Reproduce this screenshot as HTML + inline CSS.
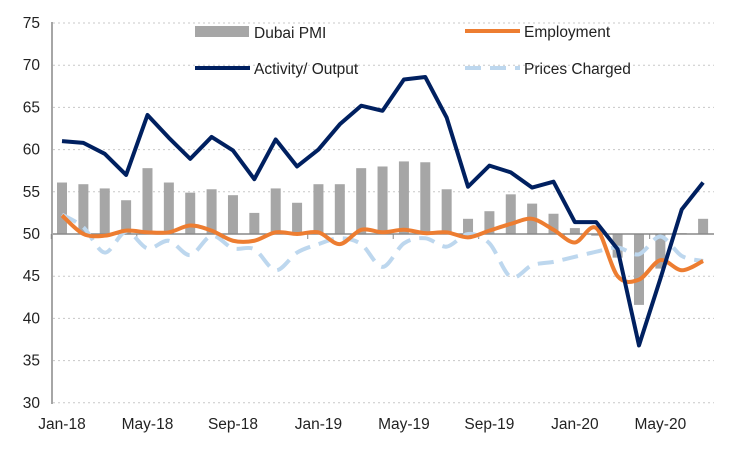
<!DOCTYPE html>
<html><head><meta charset="utf-8"><style>
body{margin:0;background:#fff}
svg text{font-family:"Liberation Sans",Arial,sans-serif;font-size:15.5px;fill:#222}
</style></head><body>
<svg id="c" width="750" height="450" xmlns="http://www.w3.org/2000/svg"></svg>
<script>
const s=document.getElementById('c');
const X=i=>62+i*21.37, Y=v=>234-(v-50)*8.44;
let h='';
for(let v=30;v<=75;v+=5){ if(v!==50) h+=`<line x1="53" x2="714" y1="${Y(v)}" y2="${Y(v)}" stroke="#c8c8c8" stroke-dasharray="2,3" stroke-width="1"/>`;
 h+=`<text x="40" y="${Y(v)+5}" text-anchor="end">${v}</text>`;}
const pmi=[56.1,55.9,55.4,54,57.8,56.1,54.9,55.3,54.6,52.5,55.4,53.7,55.9,55.9,57.8,58,58.6,58.5,55.3,51.8,52.7,54.7,53.6,52.4,50.7,49.8,47.2,41.6,45.9,50.1,51.8];
pmi.forEach((v,i)=>{const a=Y(Math.max(v,50)),b=Y(Math.min(v,50));h+=`<rect x="${X(i)-5}" y="${a}" width="10" height="${b-a}" fill="#a6a6a6"/>`;});
h+=`<line x1="53" x2="714" y1="234" y2="234" stroke="#888" stroke-width="1.5"/>`;
h+=`<line x1="52" x2="52" y1="22" y2="404" stroke="#888" stroke-width="1.5"/>`;
for(let i=0;i<31;i+=4){h+=`<line x1="${X(i)-10.7}" x2="${X(i)-10.7}" y1="234" y2="239" stroke="#888"/>`;}
function smooth(d){const p=d.map((v,i)=>[X(i),Y(v)]);let o=`M${p[0]}`;for(let i=0;i<p.length-1;i++){const p0=p[i-1]||p[i],p1=p[i],p2=p[i+1],p3=p[i+2]||p2;const t=0.16;o+=`C${p1[0]+(p2[0]-p0[0])*t},${p1[1]+(p2[1]-p0[1])*t} ${p2[0]-(p3[0]-p1[0])*t},${p2[1]-(p3[1]-p1[1])*t} ${p2[0]},${p2[1]}`;}return o;}
const pr=[52.3,50.8,47.8,50.3,48.3,49.2,47.5,49.8,48.3,48.2,45.7,47.8,48.8,49.5,48.8,46.1,48.9,49.5,48.5,50.0,48.9,44.9,46.3,46.7,47.3,47.9,48.4,47.6,49.7,47.4,46.8];
h+=`<path d="${smooth(pr)}" fill="none" stroke="#bdd7ee" stroke-width="4" stroke-dasharray="16,9"/>`;
const em=[52.2,50.0,49.8,50.4,50.2,50.2,51.0,50.4,49.2,49.2,50.2,50.0,50.2,48.8,50.5,50.2,50.5,50.1,50.2,49.6,50.4,51.2,51.8,50.5,49.0,50.7,45.0,44.6,46.9,45.7,46.8];
h+=`<path d="${smooth(em)}" fill="none" stroke="#ed7d31" stroke-width="4"/>`;
const ac=[61.0,60.8,59.5,57,64.1,61.4,58.9,61.5,59.9,56.5,61.2,58,60,63,65.2,64.6,68.3,68.6,63.8,55.6,58.1,57.3,55.5,56.2,51.4,51.4,48.2,36.8,44.7,52.9,56.1];
h+=`<polyline points="${ac.map((v,i)=>X(i)+','+Y(v)).join(' ')}" fill="none" stroke="#002060" stroke-width="4" stroke-linejoin="round"/>`;
const lab=['Jan-18','May-18','Sep-18','Jan-19','May-19','Sep-19','Jan-20','May-20'];
lab.forEach((t,k)=>{h+=`<text x="${X(k*4)}" y="429" text-anchor="middle">${t}</text>`;});
h+=`<rect x="195" y="26" width="54" height="11" fill="#a6a6a6"/><text x="254" y="38">Dubai PMI</text>`;
h+=`<line x1="195" x2="250" y1="68" y2="68" stroke="#002060" stroke-width="4"/><text x="254" y="74">Activity/ Output</text>`;
h+=`<line x1="465" x2="520" y1="31" y2="31" stroke="#ed7d31" stroke-width="4"/><text x="524" y="37">Employment</text>`;
h+=`<line x1="465" x2="520" y1="68" y2="68" stroke="#bdd7ee" stroke-width="4" stroke-dasharray="16,9"/><text x="524" y="74">Prices Charged</text>`;
s.innerHTML=h;
</script>
</body></html>
